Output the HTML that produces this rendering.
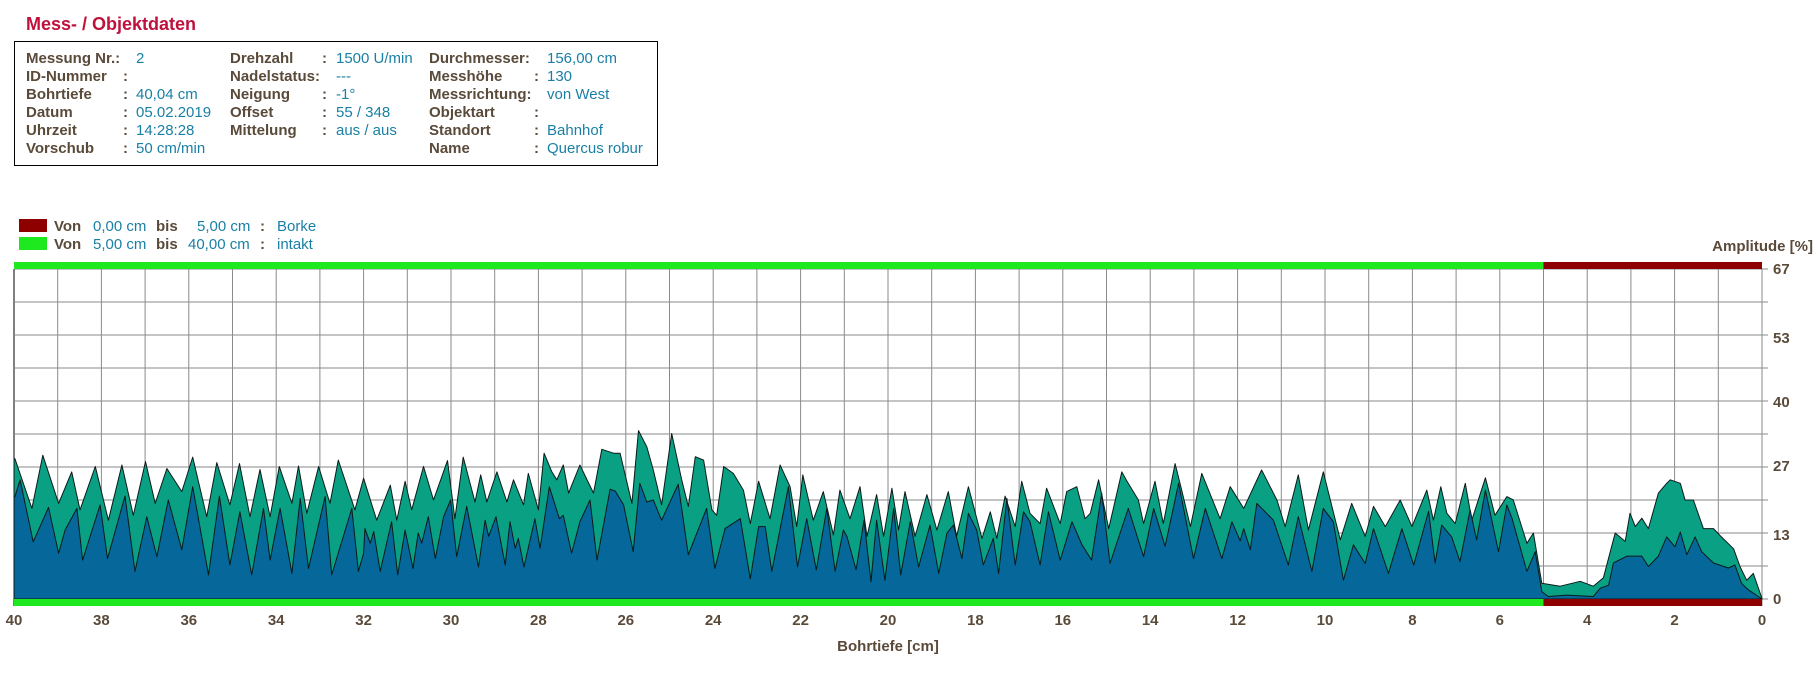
<!DOCTYPE html>
<html><head><meta charset="utf-8"><style>
body{margin:0;background:#fff;width:1820px;height:695px;overflow:hidden}
svg text{font-family:"Liberation Sans",Arial,sans-serif}
.lb{fill:#5a4a3a;font-weight:bold;font-size:15px}
.vl{fill:#1a7fa5;font-size:15px}
.ax{fill:#5a4a3a;font-weight:bold;font-size:15px}
</style></head><body>
<svg id="chart" width="1820" height="695" xmlns="http://www.w3.org/2000/svg">
<text x="26" y="30" fill="#c0103c" font-weight="bold" font-size="18">Mess- / Objektdaten</text>
<rect x="14.5" y="41.5" width="643" height="124" fill="none" stroke="#000" stroke-width="1"/>
<g>
<text class="lb" x="26" y="63">Messung Nr.:</text><text class="vl" x="136" y="63">2</text>
<text class="lb" x="26" y="81">ID-Nummer</text><text class="lb" x="123" y="81">:</text>
<text class="lb" x="26" y="99">Bohrtiefe</text><text class="lb" x="123" y="99">:</text><text class="vl" x="136" y="99">40,04 cm</text>
<text class="lb" x="26" y="117">Datum</text><text class="lb" x="123" y="117">:</text><text class="vl" x="136" y="117">05.02.2019</text>
<text class="lb" x="26" y="135">Uhrzeit</text><text class="lb" x="123" y="135">:</text><text class="vl" x="136" y="135">14:28:28</text>
<text class="lb" x="26" y="153">Vorschub</text><text class="lb" x="123" y="153">:</text><text class="vl" x="136" y="153">50 cm/min</text>
</g>
<g>
<text class="lb" x="230" y="63">Drehzahl</text><text class="lb" x="322" y="63">:</text><text class="vl" x="336" y="63">1500 U/min</text>
<text class="lb" x="230" y="81">Nadelstatus:</text><text class="vl" x="336" y="81">---</text>
<text class="lb" x="230" y="99">Neigung</text><text class="lb" x="322" y="99">:</text><text class="vl" x="336" y="99">-1°</text>
<text class="lb" x="230" y="117">Offset</text><text class="lb" x="322" y="117">:</text><text class="vl" x="336" y="117">55 / 348</text>
<text class="lb" x="230" y="135">Mittelung</text><text class="lb" x="322" y="135">:</text><text class="vl" x="336" y="135">aus / aus</text>
</g>
<g>
<text class="lb" x="429" y="63">Durchmesser:</text><text class="vl" x="547" y="63">156,00 cm</text>
<text class="lb" x="429" y="81">Messhöhe</text><text class="lb" x="534" y="81">:</text><text class="vl" x="547" y="81">130</text>
<text class="lb" x="429" y="99">Messrichtung:</text><text class="vl" x="547" y="99">von West</text>
<text class="lb" x="429" y="117">Objektart</text><text class="lb" x="534" y="117">:</text>
<text class="lb" x="429" y="135">Standort</text><text class="lb" x="534" y="135">:</text><text class="vl" x="547" y="135">Bahnhof</text>
<text class="lb" x="429" y="153">Name</text><text class="lb" x="534" y="153">:</text><text class="vl" x="547" y="153">Quercus robur</text>
</g>
<g>
<rect x="19" y="219" width="28" height="13" fill="#8e0000"/>
<text class="lb" x="54" y="231">Von</text><text class="vl" x="93" y="231">0,00 cm</text><text class="lb" x="156" y="231">bis</text><text class="vl" x="197" y="231">5,00 cm</text><text class="lb" x="260" y="231">:</text><text class="vl" x="277" y="231">Borke</text>
<rect x="19" y="237" width="28" height="13" fill="#1ee81e"/>
<text class="lb" x="54" y="249">Von</text><text class="vl" x="93" y="249">5,00 cm</text><text class="lb" x="156" y="249">bis</text><text class="vl" x="188" y="249">40,00 cm</text><text class="lb" x="260" y="249">:</text><text class="vl" x="277" y="249">intakt</text>
</g>
<text class="ax" x="1813" y="251" text-anchor="end">Amplitude [%]</text>
<text class="ax" x="888" y="651" text-anchor="middle">Bohrtiefe [cm]</text>
<g id="grid"></g><g id="areas"></g><g id="bars"></g><g id="labels"></g>
</svg>
<script>
const xTicks=[40,38,36,34,32,30,28,26,24,22,20,18,16,14,12,10,8,6,4,2,0];
const yTicks=[67,53,40,27,13,0];
const zones=[[0,5,'#8e0000'],[5,40,'#1ee81e']];
const upperDepth=[40.09,39.98,39.59,39.34,38.98,38.68,38.49,38.14,37.84,37.53,37.27,36.99,36.77,36.5,36.16,35.91,35.59,35.36,35.06,34.84,34.6,34.37,34.14,33.93,33.64,33.49,33.3,33.03,32.77,32.58,32.2,32.0,31.7,31.39,31.24,31.05,30.9,30.63,30.4,30.08,29.91,29.72,29.45,29.32,29.18,28.95,28.72,28.57,28.34,28.23,28.0,27.87,27.69,27.58,27.43,27.31,27.05,26.74,26.55,26.28,26.13,25.86,25.71,25.52,25.37,25.18,24.95,24.72,24.57,24.41,24.22,24.03,23.92,23.76,23.54,23.31,23.15,22.96,22.7,22.47,22.24,22.09,21.95,21.71,21.48,21.25,21.1,20.87,20.64,20.48,20.26,20.1,19.91,19.76,19.61,19.38,19.11,18.88,18.62,18.43,18.16,17.85,17.66,17.51,17.32,17.09,16.94,16.75,16.52,16.37,16.06,15.91,15.68,15.49,15.37,15.18,14.95,14.65,14.53,14.27,14.15,13.89,13.7,13.43,13.28,13.08,12.82,12.4,12.17,11.86,11.45,11.1,10.91,10.61,10.38,10.04,9.65,9.39,9.08,8.89,8.62,8.28,8.01,7.67,7.52,7.35,7.21,7.02,6.79,6.64,6.33,6.11,5.84,5.69,5.38,5.23,5.04,4.62,4.16,3.86,3.63,3.36,3.13,3.02,2.9,2.75,2.6,2.37,2.18,2.1,1.87,1.76,1.57,1.34,1.11,0.96,0.65,0.5,0.35,0.2,0.0];
const upperVal=[28.5,28.5,18.4,29.2,19.4,25.8,18.1,26.9,16.0,27.2,17.0,27.9,19.4,26.5,21.8,28.8,16.7,27.7,19.1,27.5,16.7,26.3,16.7,26.9,19.4,27.0,17.4,26.9,19.4,28.2,18.1,24.5,16.0,23.1,16.0,23.9,18.1,26.9,20.1,28.1,16.3,28.8,19.7,25.2,19.7,25.8,19.7,24.2,19.1,25.5,18.1,29.6,25.8,24.2,27.2,21.5,27.2,21.5,30.4,29.6,29.6,19.4,34.2,30.9,26.2,19.1,33.6,24.2,18.8,28.9,28.2,18.1,17.0,26.9,25.5,22.1,15.3,23.9,16.3,27.2,22.8,14.7,25.2,16.0,21.8,13.0,22.1,16.3,22.8,12.7,21.2,12.7,22.5,14.0,21.8,12.7,21.2,14.0,21.8,12.7,22.8,12.3,17.7,12.3,20.9,14.7,23.9,17.4,15.3,22.5,15.3,21.8,22.8,16.3,17.4,24.2,14.3,25.8,23.9,20.1,15.3,23.9,15.3,27.5,22.1,14.7,25.5,16.3,22.8,18.4,26.2,20.1,14.7,25.2,14.0,25.8,12.0,19.4,12.7,18.8,14.7,20.1,14.7,22.1,16.0,22.8,17.4,15.3,23.5,16.0,24.6,17.0,20.8,20.1,11.3,13.4,3.2,2.6,3.6,2.6,4.3,13.4,11.7,17.4,14.7,16.4,14.3,21.5,23.5,24.2,23.5,20.1,20.1,14.3,14.3,12.9,10.2,6.5,3.8,5.2,0.1];
const lowerDepth=[40.09,39.98,39.86,39.56,39.21,38.98,38.83,38.56,38.43,38.03,37.86,37.46,37.23,36.96,36.73,36.47,36.16,35.91,35.55,35.3,35.06,34.83,34.56,34.29,34.14,33.91,33.64,33.45,33.26,32.88,32.73,32.27,32.12,32.0,31.97,31.85,31.77,31.62,31.36,31.22,31.05,30.87,30.75,30.67,30.52,30.36,30.17,30.01,29.87,29.64,29.37,29.22,29.14,28.97,28.76,28.65,28.53,28.46,28.33,28.08,27.96,27.75,27.52,27.43,27.24,27.05,26.82,26.66,26.36,26.24,26.05,25.83,25.68,25.52,25.37,25.18,24.8,24.57,24.15,23.96,23.73,23.38,23.15,22.96,22.81,22.66,22.28,22.07,21.86,21.64,21.4,21.21,21.02,20.94,20.73,20.55,20.39,20.26,20.07,19.87,19.71,19.49,19.3,19.04,18.84,18.65,18.5,18.31,18.16,17.97,17.82,17.59,17.47,17.28,17.09,16.9,16.75,16.52,16.33,16.06,15.79,15.56,15.34,15.11,14.92,14.5,14.15,13.92,13.66,13.35,13.01,12.74,12.36,12.13,11.94,11.86,11.71,11.56,11.18,10.84,10.61,10.3,10.04,9.81,9.58,9.35,9.08,8.89,8.55,8.24,7.97,7.63,7.48,7.33,7.1,6.91,6.68,6.53,6.33,6.03,5.84,5.72,5.38,5.19,5.04,4.89,4.47,3.86,3.7,3.51,3.4,3.09,2.75,2.6,2.37,2.18,1.99,1.87,1.72,1.53,1.38,1.11,0.77,0.62,0.47,0.32,0.0];
const lowerVal=[20.8,20.8,24.2,11.6,18.6,9.3,14.0,18.4,7.9,19.1,8.2,20.9,5.6,16.7,8.6,20.1,10.0,22.8,4.9,20.9,6.9,17.7,4.9,18.4,7.9,18.4,5.2,20.4,6.2,20.8,4.9,18.4,5.6,9.3,14.3,11.3,13.7,5.6,15.7,4.9,14.0,6.2,13.4,11.3,16.7,8.2,16.7,20.1,8.6,18.8,6.5,16.0,12.7,16.7,6.9,15.7,10.3,12.3,6.5,16.3,10.3,22.8,16.3,17.0,9.3,15.7,20.1,7.9,22.3,21.9,19.1,9.6,23.5,19.7,20.1,16.0,23.3,9.0,18.4,6.2,14.3,16.3,4.1,14.7,14.7,5.6,22.8,6.5,16.3,5.9,18.4,5.6,14.0,12.7,5.9,16.0,3.5,16.0,3.8,18.4,4.9,15.7,6.5,15.0,5.2,13.4,15.0,8.2,17.4,14.0,6.9,12.3,5.2,20.4,6.9,17.7,15.7,6.9,17.7,7.9,15.7,11.0,7.9,21.5,7.2,18.4,8.6,18.4,10.7,23.5,8.2,18.4,8.2,15.7,11.8,14.3,10.0,19.4,16.0,6.9,16.7,5.6,18.4,15.7,3.8,11.0,7.2,14.3,5.2,14.3,6.9,17.8,7.3,15.0,12.6,7.6,18.1,12.0,22.1,9.6,19.1,16.4,5.6,9.6,1.5,0.5,0.8,0.5,2.2,2.8,7.3,8.7,8.7,6.6,8.7,12.6,10.6,13.6,9.0,12.6,9.6,7.3,6.3,6.9,3.2,1.9,0.0];
const NS='http://www.w3.org/2000/svg';
const X0=1762,PX=43.7,Y0=599,PY=330/67,YMAX=67;
const xs=d=>X0-Math.min(d,40)*PX;
const ys=v=>Y0-v*PY;
function mk(tag,attrs,parent){const e=document.createElementNS(NS,tag);for(const k in attrs)e.setAttribute(k,attrs[k]);parent.appendChild(e);return e;}
const grid=document.getElementById('grid'),areas=document.getElementById('areas'),bars=document.getElementById('bars'),labels=document.getElementById('labels');
for(let d=0;d<=40;d++){const l=mk('line',{x1:xs(d),x2:xs(d),y1:ys(YMAX),y2:ys(0)+7,stroke:d===40?'#000':'#8a8a8a','stroke-width':1},grid);

}
for(let i=0;i<=10;i++){const v=YMAX*i/10;const l=mk('line',{x1:xs(40),x2:X0+6,y1:ys(v),y2:ys(v),stroke:'#8a8a8a','stroke-width':1},grid);

}
function area(dep,val,fill,name){let p='M'+xs(dep[0])+','+ys(0);for(let i=0;i<dep.length;i++)p+=' L'+xs(dep[i]).toFixed(1)+','+ys(val[i]).toFixed(1);p+=' L'+xs(dep[dep.length-1])+','+ys(0)+' Z';
const e=mk('path',{d:p,fill:fill,stroke:'#0a1a1a','stroke-width':1,'stroke-linejoin':'round'},areas);

}
area(upperDepth,upperVal,'#0aa084','amplitude-area-upper');
area(lowerDepth,lowerVal,'#06679a','amplitude-area-lower');
zones.forEach(z=>{[ys(YMAX)-7,ys(0)].forEach((y,k)=>{const r=mk('rect',{x:xs(z[1]),y:y,width:xs(z[0])-xs(z[1]),height:7,fill:z[2]},bars);

});});
xTicks.forEach(t=>{const e=mk('text',{x:xs(t),y:625,'text-anchor':'middle',class:'ax'},labels);e.textContent=t;

});
yTicks.forEach(t=>{const e=mk('text',{x:1773,y:ys(t)+5,class:'ax'},labels);e.textContent=t;

});
</script>
</body></html>
